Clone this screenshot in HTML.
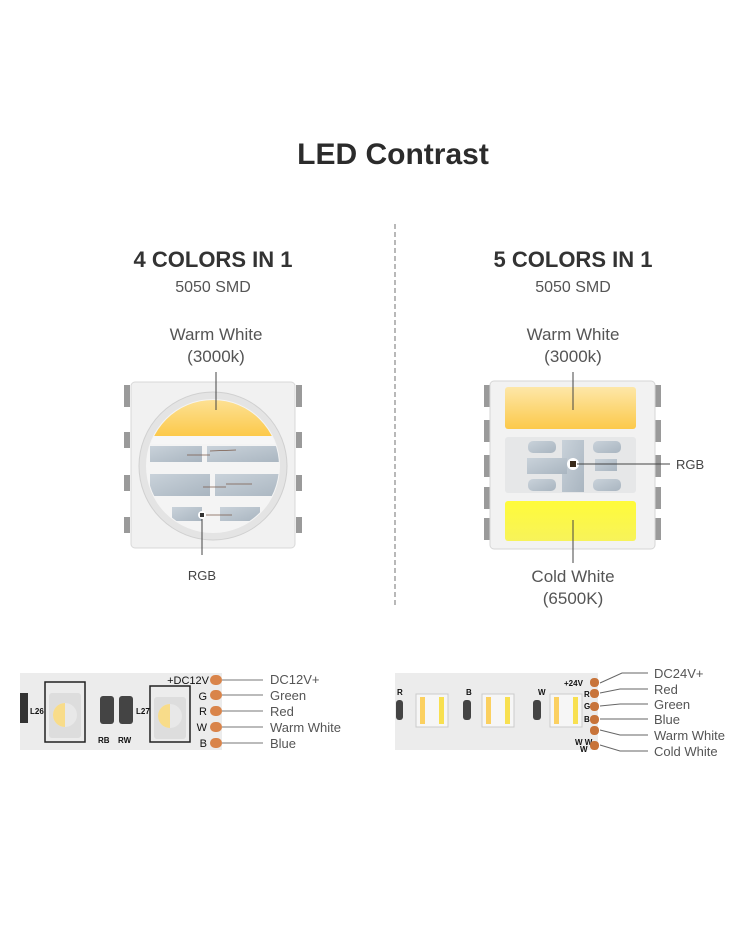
<!DOCTYPE html>
<html><head><meta charset="utf-8"><style>
html,body{margin:0;padding:0;background:#fff;}
svg{display:block;font-family:"Liberation Sans",sans-serif;}
</style></head><body>
<svg width="750" height="930" viewBox="0 0 750 930" xmlns="http://www.w3.org/2000/svg">
<defs>
<linearGradient id="ww" x1="0" y1="0" x2="0" y2="1"><stop offset="0" stop-color="#fde7a8"/><stop offset="1" stop-color="#fcc94a"/></linearGradient>
<linearGradient id="cw" x1="0" y1="0" x2="0" y2="1"><stop offset="0" stop-color="#fffb3a"/><stop offset="1" stop-color="#f7f35a"/></linearGradient>
<linearGradient id="pad" x1="0" y1="0" x2="1" y2="1"><stop offset="0" stop-color="#c9d2da"/><stop offset="1" stop-color="#a9b5c0"/></linearGradient>
<clipPath id="circ"><circle cx="213" cy="466" r="66"/></clipPath>
</defs>

<text x="393" y="164" text-anchor="middle" font-size="30" font-weight="bold" fill="#2b2b2b">LED Contrast</text>
<line x1="395" y1="224" x2="395" y2="606" stroke="#8a8a8a" stroke-width="1.2" stroke-dasharray="5,3"/>

<!-- Left headings -->
<text x="213" y="267" text-anchor="middle" font-size="22" font-weight="bold" fill="#333">4 COLORS IN 1</text>
<text x="213" y="292" text-anchor="middle" font-size="16" fill="#555">5050 SMD</text>
<text x="216" y="340" text-anchor="middle" font-size="17" fill="#555">Warm White</text>
<text x="216" y="362" text-anchor="middle" font-size="17" fill="#555">(3000k)</text>

<!-- Right headings -->
<text x="573" y="267" text-anchor="middle" font-size="22" font-weight="bold" fill="#333">5 COLORS IN 1</text>
<text x="573" y="292" text-anchor="middle" font-size="16" fill="#555">5050 SMD</text>
<text x="573" y="340" text-anchor="middle" font-size="17" fill="#555">Warm White</text>
<text x="573" y="362" text-anchor="middle" font-size="17" fill="#555">(3000k)</text>

<!-- Left chip -->
<g fill="#9a9a9a">
<rect x="124" y="385" width="6" height="22"/><rect x="124" y="432" width="6" height="16"/><rect x="124" y="475" width="6" height="16"/><rect x="124" y="517" width="6" height="16"/>
<rect x="296" y="385" width="6" height="22"/><rect x="296" y="432" width="6" height="16"/><rect x="296" y="475" width="6" height="16"/><rect x="296" y="517" width="6" height="16"/>
</g>
<rect x="131" y="382" width="164" height="166" rx="4" fill="#f1f1f1" stroke="#d8d8d8"/>
<circle cx="213" cy="466" r="74" fill="#e4e4e4" stroke="#d0d0d0"/>
<circle cx="213" cy="466" r="67" fill="#f4f4f4"/>
<g clip-path="url(#circ)">
<rect x="140" y="390" width="150" height="46" fill="url(#ww)"/>
<rect x="140" y="436" width="150" height="8" fill="#f6f6f6"/>
<rect x="150" y="446" width="52" height="16" fill="url(#pad)"/>
<rect x="207" y="446" width="80" height="16" fill="url(#pad)"/>
<rect x="150" y="474" width="60" height="22" fill="url(#pad)"/>
<rect x="215" y="474" width="75" height="22" fill="url(#pad)"/>
<rect x="172" y="507" width="30" height="14" fill="url(#pad)"/>
<rect x="220" y="507" width="40" height="14" fill="url(#pad)"/>
</g>
<g stroke="#7a5a4a" stroke-width="0.8"><line x1="187" y1="455" x2="210" y2="455"/><line x1="210" y1="451" x2="236" y2="450"/><line x1="203" y1="487" x2="226" y2="487"/><line x1="226" y1="484" x2="252" y2="484"/><line x1="203" y1="515" x2="232" y2="515"/></g>
<circle cx="202" cy="515" r="4" fill="#fff"/><rect x="200" y="513" width="4" height="4" fill="#333"/>
<line x1="216" y1="372" x2="216" y2="410" stroke="#444" stroke-width="1"/>
<line x1="202" y1="519" x2="202" y2="555" stroke="#444" stroke-width="1"/>
<text x="202" y="580" text-anchor="middle" font-size="13" fill="#444">RGB</text>

<!-- Right chip -->
<g fill="#9a9a9a">
<rect x="484" y="385" width="6" height="22"/><rect x="484" y="420" width="6" height="22"/><rect x="484" y="455" width="6" height="22"/><rect x="484" y="487" width="6" height="22"/><rect x="484" y="518" width="6" height="22"/>
<rect x="655" y="385" width="6" height="22"/><rect x="655" y="420" width="6" height="22"/><rect x="655" y="455" width="6" height="22"/><rect x="655" y="487" width="6" height="22"/><rect x="655" y="518" width="6" height="22"/>
</g>
<rect x="490" y="381" width="165" height="168" rx="4" fill="#f2f2f2" stroke="#d6d6d6"/>
<rect x="505" y="387" width="131" height="42" rx="3" fill="url(#ww)"/>
<rect x="505" y="437" width="131" height="56" rx="3" fill="#e6e7e8"/>
<rect x="505" y="501" width="131" height="40" rx="3" fill="url(#cw)"/>
<g fill="url(#pad)">
<rect x="528" y="441" width="28" height="12" rx="5"/><rect x="593" y="441" width="28" height="12" rx="5"/>
<rect x="528" y="479" width="28" height="12" rx="5"/><rect x="593" y="479" width="28" height="12" rx="5"/>
<rect x="562" y="440" width="22" height="52"/><rect x="527" y="458" width="40" height="16"/><rect x="595" y="459" width="22" height="12"/>
</g>
<circle cx="573" cy="464" r="6" fill="#fff"/><rect x="570" y="461" width="6" height="6" fill="#3a2a1a"/>
<line x1="573" y1="372" x2="573" y2="410" stroke="#444"/>
<line x1="577" y1="464" x2="670" y2="464" stroke="#444"/>
<text x="676" y="469" font-size="13" fill="#444">RGB</text>
<line x1="573" y1="520" x2="573" y2="563" stroke="#444"/>
<text x="573" y="582" text-anchor="middle" font-size="17" fill="#555">Cold White</text>
<text x="573" y="604" text-anchor="middle" font-size="17" fill="#555">(6500K)</text>

<!-- Left strip -->
<rect x="20" y="673" width="202" height="77" fill="#ececec"/>
<g stroke="#222" stroke-width="1.5" fill="none">
<rect x="45" y="682" width="40" height="60"/><rect x="150" y="686" width="40" height="56"/>
</g>
<rect x="49" y="693" width="32" height="45" rx="3" fill="#ddd"/>
<circle cx="65" cy="715" r="12" fill="#e8e8e8"/><path d="M65 703 A12 12 0 0 0 65 727 Z" fill="#f8dc8a"/>
<rect x="154" y="697" width="32" height="42" rx="3" fill="#ddd"/>
<circle cx="170" cy="716" r="12" fill="#e8e8e8"/><path d="M170 704 A12 12 0 0 0 170 728 Z" fill="#f8dc8a"/>
<rect x="20" y="693" width="8" height="30" fill="#333"/>
<rect x="100" y="696" width="14" height="28" rx="3" fill="#444"/><rect x="119" y="696" width="14" height="28" rx="3" fill="#444"/>
<text x="30" y="714" font-size="8" font-weight="bold" fill="#111">L26</text>
<text x="136" y="714" font-size="8" font-weight="bold" fill="#111">L27</text>
<text x="98" y="743" font-size="8" font-weight="bold" fill="#111">RB</text>
<text x="118" y="743" font-size="8" font-weight="bold" fill="#111">RW</text>
<g font-size="11" fill="#111" text-anchor="end">
<text x="209" y="684">+DC12V</text><text x="207" y="700">G</text><text x="207" y="715">R</text><text x="207" y="731">W</text><text x="207" y="747">B</text>
</g>
<g fill="#d9844a"><rect x="210" y="675" width="12" height="10" rx="5"/><rect x="210" y="690" width="12" height="10" rx="5"/><rect x="210" y="706" width="12" height="10" rx="5"/><rect x="210" y="722" width="12" height="10" rx="5"/><rect x="210" y="738" width="12" height="10" rx="5"/></g>
<g stroke="#777" stroke-width="1"><line x1="222" y1="680" x2="263" y2="680"/><line x1="222" y1="695" x2="263" y2="695"/><line x1="222" y1="711" x2="263" y2="711"/><line x1="222" y1="727" x2="263" y2="727"/><line x1="222" y1="743" x2="263" y2="743"/></g>
<g font-size="13" fill="#555"><text x="270" y="684">DC12V+</text><text x="270" y="700">Green</text><text x="270" y="716">Red</text><text x="270" y="732">Warm White</text><text x="270" y="748">Blue</text></g>

<!-- Right strip -->
<rect x="395" y="673" width="203" height="77" fill="#ececec"/>
<g>
<rect x="416" y="694" width="32" height="33" fill="#f6f6f6" stroke="#ccc"/><rect x="420" y="697" width="5" height="27" fill="#fbd060"/><rect x="439" y="697" width="5" height="27" fill="#f8e050"/>
<rect x="482" y="694" width="32" height="33" fill="#f6f6f6" stroke="#ccc"/><rect x="486" y="697" width="5" height="27" fill="#fbd060"/><rect x="505" y="697" width="5" height="27" fill="#f8e050"/>
<rect x="550" y="694" width="32" height="33" fill="#f6f6f6" stroke="#ccc"/><rect x="554" y="697" width="5" height="27" fill="#fbd060"/><rect x="573" y="697" width="5" height="27" fill="#f8e050"/>
<rect x="396" y="700" width="7" height="20" rx="3" fill="#444"/><rect x="463" y="700" width="8" height="20" rx="3" fill="#444"/><rect x="533" y="700" width="8" height="20" rx="3" fill="#444"/>
</g>
<g font-size="8" font-weight="bold" fill="#111">
<text x="397" y="695">R</text><text x="466" y="695">B</text><text x="538" y="695">W</text>
<text x="564" y="686">+24V</text><text x="584" y="697">R</text><text x="584" y="709">G</text><text x="584" y="722">B</text><text x="575" y="745">W W</text><text x="580" y="752">W</text>
</g>
<g fill="#c8743a"><rect x="590" y="678" width="9" height="9" rx="4"/><rect x="590" y="689" width="9" height="9" rx="4"/><rect x="590" y="702" width="9" height="9" rx="4"/><rect x="590" y="715" width="9" height="9" rx="4"/><rect x="590" y="726" width="9" height="9" rx="4"/><rect x="590" y="741" width="9" height="9" rx="4"/></g>
<g stroke="#666" stroke-width="1" fill="none">
<polyline points="600,683 622,673 648,673"/><polyline points="600,693 620,689 648,689"/><polyline points="600,706 620,704 648,704"/><polyline points="600,719 648,719"/><polyline points="600,730 620,735 648,735"/><polyline points="600,745 620,751 648,751"/>
</g>
<g font-size="13" fill="#555"><text x="654" y="678">DC24V+</text><text x="654" y="694">Red</text><text x="654" y="709">Green</text><text x="654" y="724">Blue</text><text x="654" y="740">Warm White</text><text x="654" y="756">Cold White</text></g>
</svg>
</body></html>
